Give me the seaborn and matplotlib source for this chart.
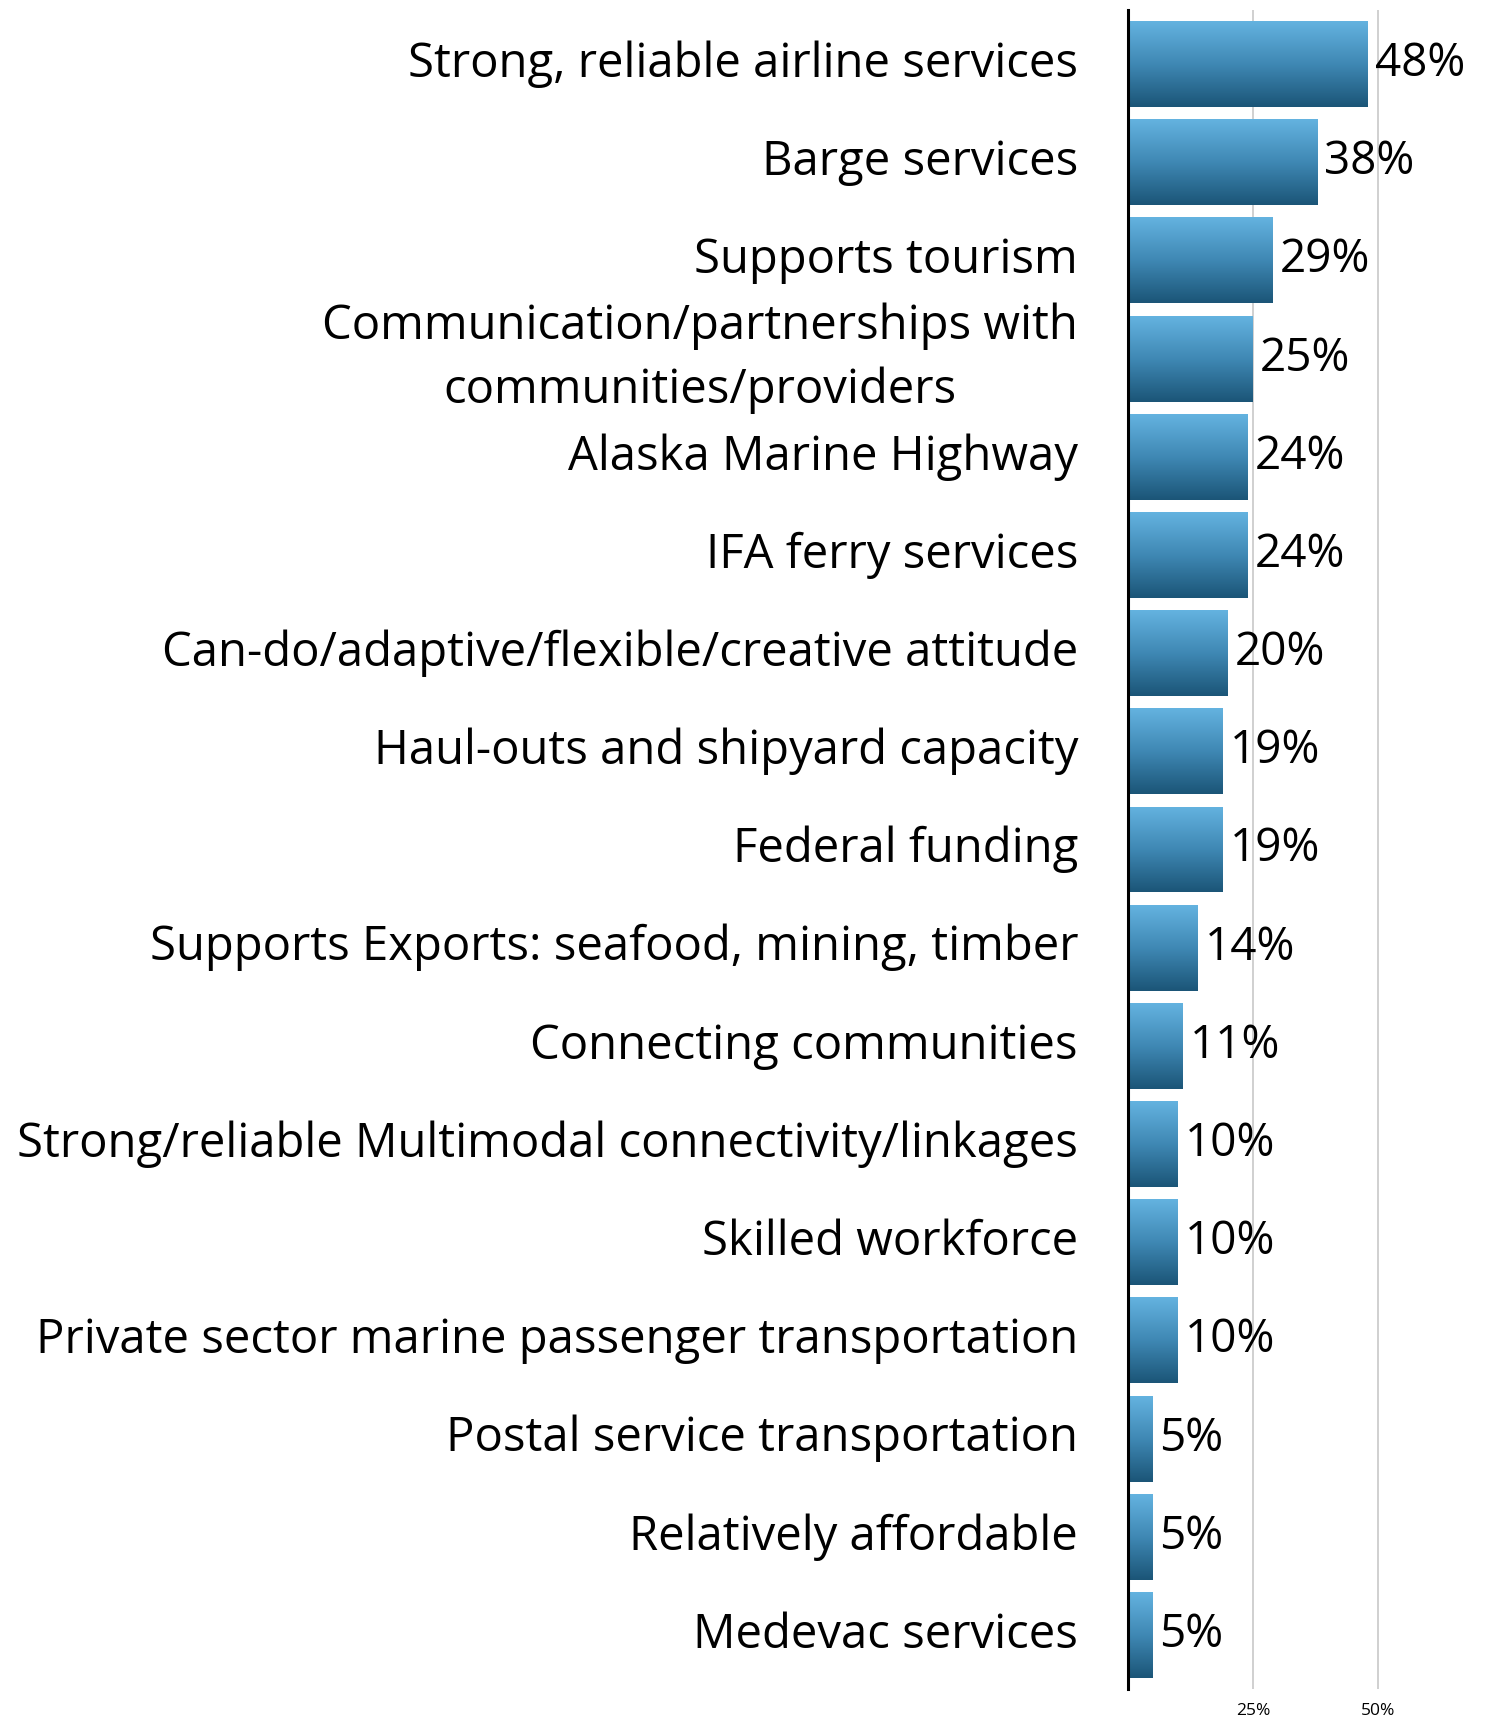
import numpy as np
import pandas as pd
import matplotlib
matplotlib.use("Agg")
import matplotlib.pyplot as plt
from matplotlib.colors import LinearSegmentedColormap
import seaborn as sns

categories = [
    "Strong, reliable airline services",
    "Barge services",
    "Supports tourism",
    "Communication/partnerships with\ncommunities/providers",
    "Alaska Marine Highway",
    "IFA ferry services",
    "Can-do/adaptive/flexible/creative attitude",
    "Haul-outs and shipyard capacity",
    "Federal funding",
    "Supports Exports: seafood, mining, timber",
    "Connecting communities",
    "Strong/reliable Multimodal connectivity/linkages",
    "Skilled workforce",
    "Private sector marine passenger transportation",
    "Postal service transportation",
    "Relatively affordable",
    "Medevac services",
]
values = [48, 38, 29, 25, 24, 24, 20, 19, 19, 14, 11, 10, 10, 10, 5, 5, 5]
x_ticks = [25, 50]
x_tick_labels = ["25%", "50%"]

df = pd.DataFrame({"category": categories, "share": values})

sns.set_theme(style="white")
plt.rcParams["font.family"] = ["Open Sans", "DejaVu Sans"]

fig = plt.figure(figsize=(14.89, 17.18), dpi=100)
ax = fig.add_axes([1128 / 1489, 1 - 1689 / 1718, 1 - 1128 / 1489, 1679 / 1718])

sns.barplot(data=df, x="share", y="category", orient="h", width=0.875,
            color="#3a85b0", ax=ax, zorder=2)

# vertical blue gradient painted inside every bar
grad_cmap = LinearSegmentedColormap.from_list("bar_grad", ["#64b3e0", "#3f88b4", "#1b5577"])
grad = np.linspace(0, 1, 256).reshape(-1, 1)
for patch in ax.patches:
    x0, y0 = patch.get_x(), patch.get_y()
    w, h = patch.get_width(), patch.get_height()
    patch.set_facecolor("none")
    patch.set_edgecolor("none")
    im = ax.imshow(grad, cmap=grad_cmap, aspect="auto", origin="upper",
                   extent=(x0, x0 + w, y0 + h, y0), zorder=2, interpolation="bicubic")
    im.set_clip_path(patch)
    ax.text(x0 + w + 1.3, y0 + h / 2, f"{int(round(w))}%", va="center", ha="left",
            fontsize=33, color="black", zorder=3)

ax.set_xlim(0, 72.2)
ax.set_ylim(16.55, -0.55)
ax.set_xticks(x_ticks)
ax.set_xticklabels(x_tick_labels, fontsize=12.5)
ax.xaxis.grid(True, color="#c8c8c8", linewidth=1.2, zorder=0)
ax.yaxis.grid(False)
ax.set_axisbelow(True)
ax.tick_params(axis="x", length=0, pad=10, labelcolor="black")
ax.tick_params(axis="y", length=0, pad=36, labelsize=34, labelcolor="black")
for lbl in ax.get_yticklabels():
    lbl.set_multialignment("center")
    lbl.set_linespacing(1.45)
    lbl.set_verticalalignment("center")
ax.set_xlabel("")
ax.set_ylabel("")
for side in ["top", "right", "bottom"]:
    ax.spines[side].set_visible(False)
ax.spines["left"].set_color("black")
ax.spines["left"].set_linewidth(2.2)

fig.savefig("out.png", dpi=100)
